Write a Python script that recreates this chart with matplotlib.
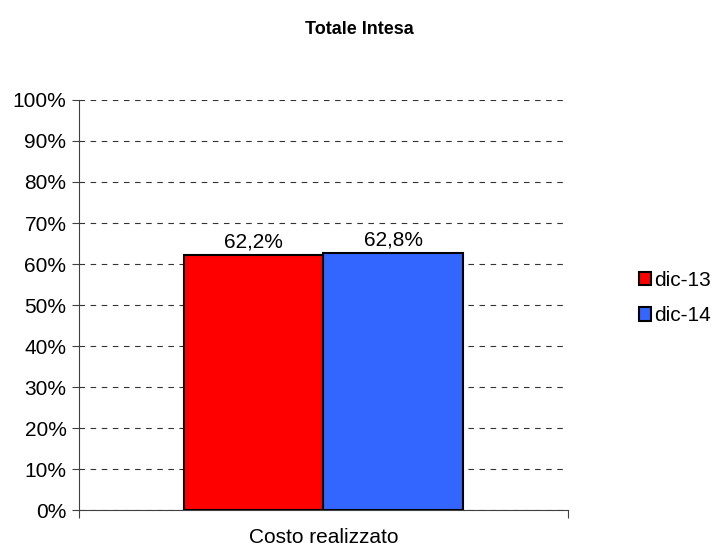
import matplotlib
matplotlib.use("Agg")
import matplotlib.pyplot as plt
from matplotlib.ticker import PercentFormatter

series = ["dic-13", "dic-14"]
values = [62.2, 62.8]
labels = ["62,2%", "62,8%"]
category = "Costo realizzato"
colors = ["#FF0000", "#3366FF"]

plt.rcParams["font.family"] = ["Liberation Sans", "DejaVu Sans"]

fig = plt.figure(figsize=(7.18, 5.47), dpi=100)
ax = fig.add_axes([0.110, 0.0676, 0.681, 0.7496])

w = 0.286
for i, (name, v, lab, c) in enumerate(zip(series, values, labels, colors)):
    x = (i - 0.5) * w
    ax.bar(x, v, width=w, color=c, edgecolor="black", linewidth=1.5, label=name, zorder=3)
    ax.text(x, v + 0.8, lab, ha="center", va="bottom", fontsize=15)

ax.set_xlim(-0.5, 0.5)
ax.set_ylim(0, 100)
ax.set_yticks(range(0, 101, 10))
ax.yaxis.set_major_formatter(PercentFormatter(decimals=0))
ax.set_xticks([-0.5, 0.5])
ax.set_xticklabels(["", ""])
ax.tick_params(axis="y", labelsize=15, length=5, color="#404040", pad=4)
ax.tick_params(axis="x", length=6, color="#404040")
fig.text(0.4505, 0.017, category, ha="center", va="center", fontsize=15)

for s in ["top", "right"]:
    ax.spines[s].set_visible(False)
ax.spines["left"].set_color("#404040")
ax.spines["bottom"].set_color("#404040")
ax.grid(axis="y", linestyle=(0, (5, 5)), color="#333333", linewidth=0.8, zorder=0)

fig.text(0.5, 0.946, "Totale Intesa", ha="center", va="center", fontsize=13, fontweight="bold")

fig.legend(loc="center left", bbox_to_anchor=(0.878, 0.455), frameon=False, fontsize=15,
           handlelength=0.6, handleheight=0.6, handletextpad=0.15, labelspacing=0.78,
           borderaxespad=0)

fig.savefig("out.png", dpi=100)
